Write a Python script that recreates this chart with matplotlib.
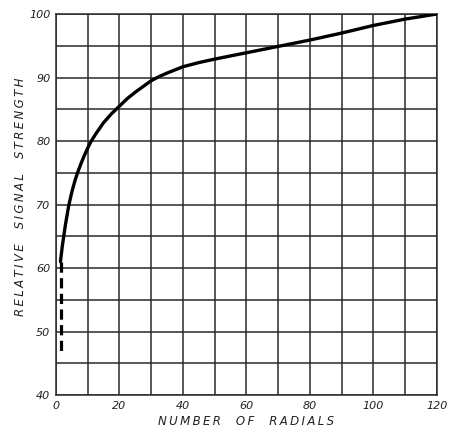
import numpy as np
import matplotlib
matplotlib.use("Agg")
import matplotlib.pyplot as plt

# signal strength vs. number of radials
radials = [1.4, 2.0, 2.5, 3.0, 4.0, 5.0, 6.0, 7.0, 8.0, 9.0, 10.0, 11.0, 12.5, 15, 17.5,
           20, 22.5, 25, 27.5, 30, 32.5, 35, 37.5, 40, 45, 50, 55, 60, 70, 80, 90, 100,
           110, 120]
strength = [61.0, 63.5, 65.2, 66.9, 69.8, 72.0, 73.8, 75.3, 76.6, 77.8, 78.9, 79.9, 81.1,
            82.9, 84.3, 85.5, 86.7, 87.7, 88.6, 89.5, 90.15, 90.7, 91.2, 91.7, 92.35,
            92.9, 93.4, 93.9, 94.9, 95.9, 97.0, 98.2, 99.2, 100.0]

# extrapolated part, drawn dashed
dash_x = [1.5, 1.5]
dash_y = [61.0, 46.5]

xticks = [0, 20, 40, 60, 80, 100, 120]
yticks = [40, 50, 60, 70, 80, 90, 100]


def lettered(*words):
    # open letter spacing like hand lettering
    return '    '.join('\u2009'.join(w) for w in words)


fig = plt.figure(figsize=(4.56, 4.32), dpi=100)
ax = fig.add_axes([0.1228, 0.0856, 0.8355, 0.882])

gridcol = '#2a2a2a'
for gx in np.arange(0, 121, 10):
    ax.axvline(gx, color=gridcol, lw=1.1, zorder=1)
for gy in np.arange(40, 101, 5):
    ax.axhline(gy, color=gridcol, lw=1.1, zorder=1)

ax.plot(radials, strength, color='black', lw=2.4, solid_capstyle='round',
        solid_joinstyle='round', zorder=3)
ax.plot(dash_x, dash_y, color='black', lw=2.3, dashes=(3.2, 1.7), zorder=3)

ax.set_xlim(0, 120)
ax.set_ylim(40, 100)
ax.set_xticks(xticks)
ax.set_yticks(yticks)
ax.set_xticklabels([str(v) for v in xticks], style='italic', fontsize=8)
ax.set_yticklabels([str(v) for v in yticks], style='italic', fontsize=8)
ax.tick_params(length=0, pad=4, colors='#222222')

for s in ax.spines.values():
    s.set_color(gridcol)
    s.set_linewidth(1.1)

ax.set_xlabel(lettered('NUMBER', 'OF', 'RADIALS'), style='italic', fontsize=8.5,
              color='#222222', labelpad=3)
ax.set_ylabel(lettered('RELATIVE', 'SIGNAL', 'STRENGTH'), style='italic', fontsize=8.5,
              color='#222222', labelpad=8)
ax.yaxis.set_label_coords(-0.075, 0.52)

fig.savefig('out.png', dpi=100)
